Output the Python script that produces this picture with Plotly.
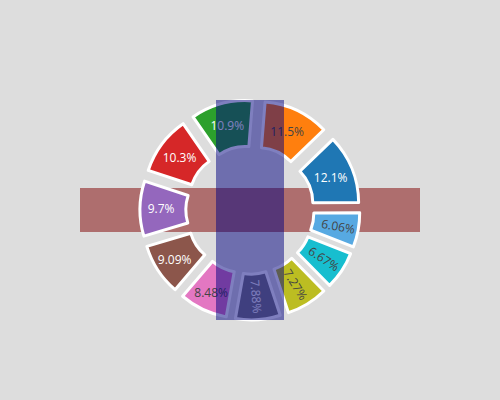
import plotly.graph_objects as go

labels = ["A", "B", "C", "D", "E", "F", "G", "H", "I", "J", "K"]
values = [20, 19, 18, 17, 16, 15, 14, 13, 12, 11, 10]
pulls = [0.2] * 11

fig = go.Figure(
    go.Pie(
        labels=labels,
        values=values,
        pull=pulls,
        hole=0.5,
        rotation=46,
        textinfo="percent",
        marker=dict(line=dict(color="white", width=3)),
        showlegend=False,
    )
)

fig.update_layout(
    template="none",
    width=500,
    height=400,
    paper_bgcolor="#dddddd",
    plot_bgcolor="#dddddd",
    margin=dict(l=80, r=80, t=100, b=80),
    shapes=[
        dict(type="rect", xref="paper", yref="paper", x0=0, x1=1, y0=0.4, y1=0.6,
             fillcolor="rgb(128,0,0)", opacity=0.5, line=dict(width=0), layer="below"),
        dict(type="rect", xref="paper", yref="paper", x0=0.4, x1=0.6, y0=0, y1=1,
             fillcolor="rgb(0,0,128)", opacity=0.5, line=dict(width=0), layer="above"),
    ],
)

fig.write_html("out.html", config={"displayModeBar": False},
               post_script="document.body.style.margin='0';")
